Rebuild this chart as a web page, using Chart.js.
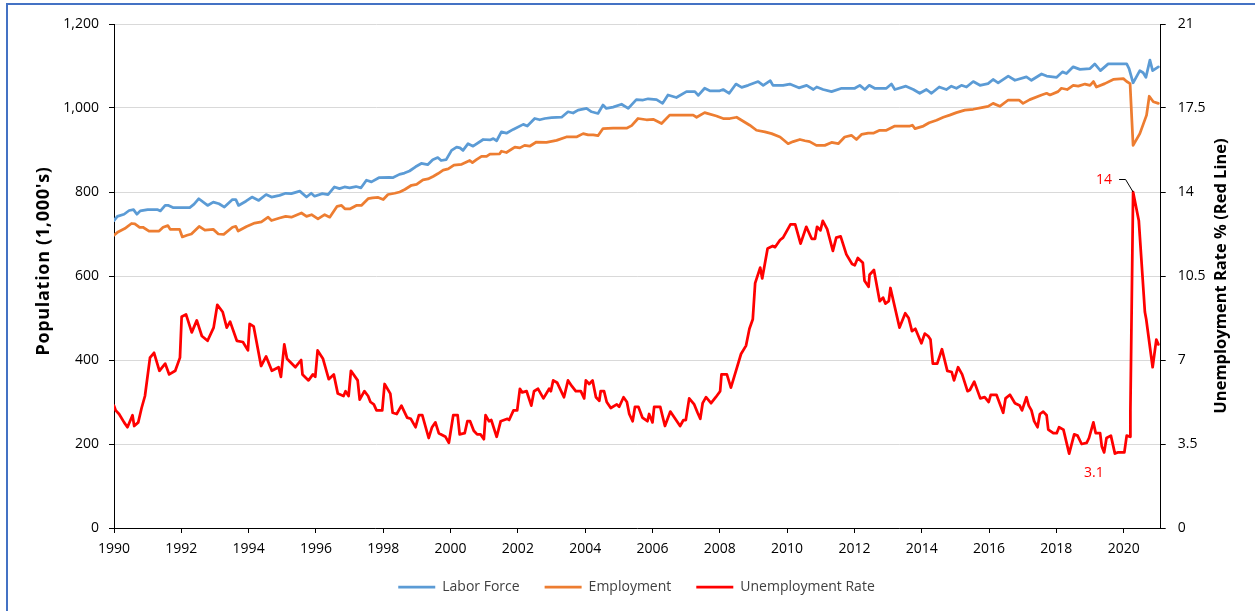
<!DOCTYPE html>
<html>
<head>
<meta charset="utf-8">
<title>Labor Force, Employment and Unemployment Rate</title>
<script src="https://cdn.jsdelivr.net/npm/chart.js@4.4.1/dist/chart.umd.min.js"></script>
<style>
  html, body { margin: 0; padding: 0; background: #fff; overflow: hidden; }
  #frame { position: absolute; left: 6px; top: 3px; width: 1400px; height: 800px; border: 2px solid #4472c4; box-sizing: border-box; }
  #wrap { position: absolute; left: 0; top: 0; width: 1255px; height: 611px; }
</style>
</head>
<body>
<div id="frame"></div>
<div id="wrap"><canvas id="chart"></canvas></div>
<script>
// tick labels
const yearTicks = [1990, 1992, 1994, 1996, 1998, 2000, 2002, 2004, 2006, 2008, 2010, 2012, 2014, 2016, 2018, 2020];
const populationTicks = [0, 200, 400, 600, 800, 1000, 1200];
const rateTicks = [0, 3.5, 7, 10.5, 14, 17.5, 21];

// [year, population in 1,000's]
const laborForce = [
  [1990.00, 732], [1990.10, 742], [1990.30, 747], [1990.45, 756], [1990.58, 758], [1990.68, 747], [1990.78, 755],
  [1991.00, 758], [1991.30, 758], [1991.38, 755], [1991.52, 768], [1991.62, 768], [1991.75, 763], [1992.25, 763],
  [1992.38, 771], [1992.52, 784], [1992.78, 768], [1992.95, 776], [1993.12, 772], [1993.28, 764], [1993.52, 782],
  [1993.62, 782], [1993.70, 768], [1993.92, 778], [1994.10, 788], [1994.30, 780], [1994.52, 794], [1994.68, 788],
  [1994.92, 792], [1995.10, 797], [1995.27, 796], [1995.52, 802], [1995.72, 788], [1995.86, 797], [1995.96, 790],
  [1996.19, 796], [1996.36, 794], [1996.55, 812], [1996.70, 808], [1996.85, 812], [1997.00, 810], [1997.19, 813],
  [1997.34, 810], [1997.50, 828], [1997.65, 824], [1997.87, 834], [1998.18, 835], [1998.28, 834], [1998.48, 842],
  [1998.63, 845], [1998.78, 850], [1998.96, 860], [1999.13, 868], [1999.32, 865], [1999.47, 877], [1999.62, 882],
  [1999.72, 875], [1999.87, 877], [2000.03, 899], [2000.18, 907], [2000.28, 905], [2000.37, 899], [2000.52, 915],
  [2000.67, 909], [2000.97, 925], [2001.17, 924], [2001.27, 927], [2001.37, 922], [2001.51, 943], [2001.66, 940],
  [2001.86, 949], [2002.16, 961], [2002.28, 957], [2002.50, 975], [2002.65, 972], [2002.80, 975], [2003.00, 977],
  [2003.30, 978], [2003.49, 991], [2003.64, 988], [2003.79, 995], [2004.04, 999], [2004.19, 991], [2004.38, 987],
  [2004.53, 1007], [2004.63, 999], [2004.83, 1002], [2005.08, 1009], [2005.28, 999], [2005.52, 1020], [2005.72, 1019],
  [2005.87, 1022], [2006.12, 1020], [2006.30, 1011], [2006.46, 1031], [2006.71, 1025], [2007.01, 1039], [2007.26, 1039],
  [2007.36, 1030], [2007.55, 1047], [2007.70, 1041], [2008.00, 1041], [2008.10, 1044], [2008.28, 1035], [2008.48, 1057],
  [2008.65, 1049], [2008.84, 1054], [2009.14, 1063], [2009.29, 1054], [2009.50, 1065], [2009.58, 1054], [2009.88, 1054],
  [2010.08, 1057], [2010.35, 1048], [2010.58, 1054], [2010.78, 1044], [2010.88, 1050], [2011.07, 1044], [2011.32, 1039],
  [2011.62, 1047], [2012.01, 1047], [2012.16, 1054], [2012.31, 1044], [2012.44, 1054], [2012.60, 1047], [2012.95, 1047],
  [2013.10, 1057], [2013.20, 1044], [2013.53, 1052], [2013.75, 1044], [2013.94, 1035], [2014.14, 1044], [2014.29, 1035],
  [2014.52, 1050], [2014.73, 1044], [2014.88, 1052], [2015.03, 1047], [2015.18, 1054], [2015.33, 1050], [2015.53, 1063],
  [2015.73, 1054], [2015.97, 1058], [2016.12, 1068], [2016.27, 1060], [2016.57, 1076], [2016.77, 1066], [2017.11, 1074],
  [2017.26, 1066], [2017.56, 1081], [2017.71, 1076], [2018.01, 1073], [2018.18, 1086], [2018.30, 1082], [2018.50, 1098],
  [2018.70, 1092], [2019.00, 1094], [2019.14, 1105], [2019.31, 1089], [2019.54, 1105], [2020.09, 1105], [2020.16, 1094],
  [2020.28, 1060], [2020.48, 1089], [2020.58, 1084], [2020.66, 1073], [2020.78, 1114], [2020.86, 1089], [2021.03, 1098]
];

const employment = [
  [1990.00, 697], [1990.12, 705], [1990.32, 713], [1990.52, 725], [1990.62, 724], [1990.76, 716], [1990.86, 716],
  [1991.04, 707], [1991.34, 707], [1991.46, 716], [1991.60, 720], [1991.67, 711], [1991.95, 711], [1992.03, 693],
  [1992.17, 697], [1992.30, 700], [1992.53, 718], [1992.70, 709], [1992.95, 711], [1993.10, 700], [1993.26, 699],
  [1993.52, 716], [1993.62, 718], [1993.69, 707], [1993.94, 718], [1994.18, 726], [1994.38, 729], [1994.58, 740],
  [1994.68, 732], [1994.92, 738], [1995.10, 742], [1995.27, 740], [1995.57, 750], [1995.72, 742], [1995.87, 746],
  [1996.06, 736], [1996.26, 746], [1996.41, 740], [1996.63, 766], [1996.76, 768], [1996.86, 760], [1997.02, 760],
  [1997.20, 768], [1997.35, 768], [1997.55, 784], [1997.68, 786], [1997.85, 787], [1998.00, 782], [1998.14, 794],
  [1998.34, 797], [1998.49, 800], [1998.64, 806], [1998.84, 816], [1998.99, 818], [1999.18, 829], [1999.33, 831],
  [1999.48, 837], [1999.63, 844], [1999.78, 852], [1999.93, 855], [2000.10, 864], [2000.33, 866], [2000.57, 875],
  [2000.65, 870], [2000.77, 877], [2000.92, 885], [2001.07, 885], [2001.17, 890], [2001.46, 891], [2001.51, 897],
  [2001.66, 894], [2001.91, 907], [2002.06, 905], [2002.20, 911], [2002.35, 909], [2002.55, 919], [2002.85, 918],
  [2003.15, 923], [2003.44, 931], [2003.74, 931], [2003.94, 939], [2004.09, 936], [2004.24, 936], [2004.38, 934],
  [2004.53, 951], [2004.83, 952], [2005.23, 952], [2005.38, 958], [2005.57, 975], [2005.82, 972], [2006.02, 973],
  [2006.27, 963], [2006.51, 983], [2006.91, 983], [2007.21, 983], [2007.31, 978], [2007.55, 989], [2007.90, 981],
  [2008.10, 975], [2008.30, 975], [2008.50, 978], [2008.89, 959], [2009.09, 947], [2009.34, 943], [2009.54, 939],
  [2009.79, 931], [2010.03, 915], [2010.18, 920], [2010.38, 925], [2010.53, 922], [2010.67, 920], [2010.87, 911],
  [2011.12, 911], [2011.32, 918], [2011.52, 915], [2011.71, 931], [2011.91, 935], [2012.06, 925], [2012.21, 937],
  [2012.41, 940], [2012.56, 940], [2012.75, 947], [2012.95, 947], [2013.20, 957], [2013.65, 957], [2013.72, 959],
  [2013.80, 951], [2014.05, 957], [2014.22, 965], [2014.44, 971], [2014.64, 978], [2014.83, 983], [2015.03, 989],
  [2015.28, 995], [2015.53, 997], [2015.78, 1001], [2015.97, 1004], [2016.12, 1011], [2016.32, 1004], [2016.57, 1019],
  [2016.89, 1019], [2017.01, 1011], [2017.21, 1020], [2017.56, 1031], [2017.71, 1035], [2017.81, 1031], [2018.05, 1039],
  [2018.15, 1047], [2018.32, 1044], [2018.50, 1054], [2018.65, 1052], [2018.85, 1057], [2019.00, 1054], [2019.10, 1063],
  [2019.19, 1050], [2019.44, 1058], [2019.69, 1068], [2019.99, 1070], [2020.09, 1063], [2020.19, 1058], [2020.28, 911],
  [2020.48, 939], [2020.68, 983], [2020.76, 1028], [2020.88, 1015], [2021.03, 1011]
];

// [year, unemployment rate %]
const unemploymentRate = [
  [1990.00, 5.1], [1990.05, 4.9], [1990.15, 4.75], [1990.30, 4.4], [1990.40, 4.2], [1990.55, 4.7], [1990.60, 4.25],
  [1990.72, 4.4], [1990.82, 5.0], [1990.92, 5.5], [1991.07, 7.1], [1991.19, 7.3], [1991.35, 6.55], [1991.52, 6.85],
  [1991.64, 6.4], [1991.82, 6.55], [1991.96, 7.1], [1992.01, 8.8], [1992.14, 8.9], [1992.31, 8.15], [1992.46, 8.65],
  [1992.61, 8.0], [1992.78, 7.8], [1992.96, 8.35], [1993.07, 9.3], [1993.23, 9.0], [1993.35, 8.35], [1993.45, 8.6],
  [1993.65, 7.8], [1993.83, 7.75], [1993.98, 7.4], [1994.03, 8.5], [1994.15, 8.4], [1994.37, 6.75], [1994.52, 7.15],
  [1994.69, 6.55], [1994.89, 6.7], [1994.96, 6.3], [1995.06, 7.65], [1995.14, 7.05], [1995.39, 6.7], [1995.56, 7.0],
  [1995.60, 6.4], [1995.78, 6.15], [1995.91, 6.4], [1995.98, 6.3], [1996.05, 7.4], [1996.21, 7.05], [1996.38, 6.2],
  [1996.53, 6.4], [1996.65, 5.6], [1996.82, 5.5], [1996.88, 5.7], [1996.97, 5.5], [1997.04, 6.55], [1997.24, 6.15],
  [1997.30, 5.35], [1997.44, 5.7], [1997.55, 5.5], [1997.62, 5.25], [1997.72, 5.15], [1997.80, 4.9], [1997.97, 4.9],
  [1998.04, 6.0], [1998.21, 5.6], [1998.28, 4.8], [1998.40, 4.75], [1998.54, 5.1], [1998.71, 4.6], [1998.82, 4.55],
  [1998.96, 4.2], [1999.06, 4.7], [1999.16, 4.7], [1999.35, 3.75], [1999.45, 4.2], [1999.55, 4.4], [1999.65, 3.95],
  [1999.85, 3.8], [1999.95, 3.55], [2000.08, 4.7], [2000.21, 4.7], [2000.27, 3.9], [2000.42, 3.95], [2000.50, 4.45],
  [2000.58, 4.45], [2000.69, 4.05], [2000.79, 3.9], [2000.89, 3.9], [2000.99, 3.7], [2001.04, 4.7], [2001.14, 4.45],
  [2001.21, 4.5], [2001.37, 3.8], [2001.49, 4.45], [2001.69, 4.55], [2001.74, 4.5], [2001.87, 4.9], [2001.98, 4.9],
  [2002.06, 5.8], [2002.13, 5.65], [2002.26, 5.7], [2002.40, 5.1], [2002.48, 5.7], [2002.60, 5.8], [2002.76, 5.4],
  [2002.93, 5.8], [2002.98, 5.7], [2003.05, 6.15], [2003.17, 6.05], [2003.37, 5.45], [2003.49, 6.15], [2003.61, 5.9],
  [2003.72, 5.7], [2003.87, 5.7], [2003.97, 5.4], [2004.02, 6.15], [2004.12, 6.0], [2004.22, 6.15], [2004.32, 5.45],
  [2004.42, 5.3], [2004.46, 5.7], [2004.56, 5.7], [2004.64, 5.25], [2004.76, 5.0], [2004.94, 5.15], [2005.01, 5.05],
  [2005.14, 5.45], [2005.24, 5.25], [2005.31, 4.75], [2005.41, 4.45], [2005.48, 5.05], [2005.58, 5.05], [2005.70, 4.6],
  [2005.85, 4.45], [2005.90, 4.75], [2006.00, 4.4], [2006.05, 5.05], [2006.23, 5.05], [2006.37, 4.25], [2006.53, 4.85],
  [2006.65, 4.6], [2006.82, 4.25], [2006.92, 4.5], [2006.99, 4.5], [2007.09, 5.4], [2007.24, 5.15], [2007.34, 4.8],
  [2007.42, 4.55], [2007.49, 5.2], [2007.59, 5.45], [2007.74, 5.2], [2007.88, 5.45], [2008.01, 5.7], [2008.05, 6.4],
  [2008.21, 6.4], [2008.33, 5.85], [2008.48, 6.55], [2008.63, 7.25], [2008.78, 7.6], [2008.88, 8.3], [2008.98, 8.7],
  [2009.05, 10.2], [2009.20, 10.85], [2009.26, 10.4], [2009.42, 11.65], [2009.57, 11.75], [2009.64, 11.7], [2009.79, 12.0],
  [2009.88, 12.1], [2010.10, 12.65], [2010.24, 12.65], [2010.40, 11.85], [2010.57, 12.55], [2010.73, 12.05], [2010.83, 12.05],
  [2010.89, 12.55], [2010.99, 12.4], [2011.06, 12.8], [2011.19, 12.45], [2011.36, 11.55], [2011.46, 12.1], [2011.59, 12.15],
  [2011.76, 11.4], [2011.93, 11.0], [2012.01, 10.95], [2012.10, 11.25], [2012.25, 11.05], [2012.30, 10.3], [2012.42, 10.05],
  [2012.45, 10.55], [2012.58, 10.75], [2012.75, 9.45], [2012.85, 9.6], [2012.92, 9.35], [2013.02, 9.45], [2013.07, 10.0],
  [2013.34, 8.35], [2013.51, 8.95], [2013.61, 8.75], [2013.71, 8.2], [2013.81, 8.3], [2013.99, 7.7], [2014.09, 8.1],
  [2014.19, 8.0], [2014.26, 7.85], [2014.33, 6.85], [2014.46, 6.85], [2014.60, 7.45], [2014.76, 6.55], [2014.89, 6.5],
  [2014.96, 6.15], [2015.08, 6.7], [2015.20, 6.4], [2015.36, 5.7], [2015.43, 5.75], [2015.56, 6.1], [2015.74, 5.4],
  [2015.87, 5.45], [2015.99, 5.25], [2016.05, 5.55], [2016.22, 5.55], [2016.42, 4.8], [2016.49, 5.4], [2016.62, 5.55],
  [2016.77, 5.2], [2016.91, 5.1], [2016.98, 4.9], [2017.11, 5.45], [2017.18, 5.1], [2017.26, 4.9], [2017.34, 4.45],
  [2017.44, 4.2], [2017.51, 4.75], [2017.61, 4.85], [2017.71, 4.7], [2017.76, 4.1], [2017.91, 3.95], [2018.01, 3.95],
  [2018.08, 4.2], [2018.21, 4.1], [2018.38, 3.1], [2018.53, 3.9], [2018.63, 3.85], [2018.75, 3.5], [2018.90, 3.55],
  [2018.97, 3.75], [2019.10, 4.4], [2019.17, 3.95], [2019.30, 3.95], [2019.35, 3.4], [2019.42, 3.15], [2019.49, 3.75],
  [2019.62, 3.85], [2019.74, 3.1], [2019.82, 3.15], [2020.02, 3.15], [2020.09, 3.85], [2020.19, 3.8], [2020.20, 4.9],
  [2020.28, 14.0], [2020.45, 12.8], [2020.63, 9.0], [2020.67, 8.7], [2020.86, 6.7], [2020.97, 7.85], [2021.03, 7.65]
];

// labelled points on the red line: [year, rate, text]
const callouts = [[2020.28, 14.0, '14'], [2019.74, 3.1, '3.1']];

const toPoints = arr => arr.map(([x, y]) => ({ x, y }));

Chart.defaults.font.family = '"Open Sans", sans-serif';
Chart.defaults.font.size = 14;
Chart.defaults.color = '#000';

// axis titles and the two data labels
const extras = {
  id: 'extras',
  afterDraw(chart) {
    const { ctx, chartArea, scales } = chart;
    const midY = (chartArea.top + chartArea.bottom) / 2;
    ctx.save();
    ctx.fillStyle = '#000';
    ctx.textAlign = 'center';
    ctx.textBaseline = 'middle';

    ctx.save();
    ctx.font = 'bold 18px "Open Sans"';
    ctx.letterSpacing = '0.7px';
    ctx.translate(chartArea.left - 70, midY - 15);
    ctx.rotate(-Math.PI / 2);
    ctx.fillText("Population (1,000's)", 0, 0);
    ctx.restore();

    ctx.save();
    ctx.font = 'bold 16.5px "Open Sans"';
    ctx.translate(chartArea.right + 61, midY);
    ctx.rotate(-Math.PI / 2);
    ctx.fillText('Unemployment Rate % (Red Line)', 0, 0);
    ctx.restore();

    ctx.font = '14px "Open Sans"';
    ctx.fillStyle = '#ff0000';
    callouts.forEach(([year, rate, text], i) => {
      const px = scales.x.getPixelForValue(year);
      const py = scales.y1.getPixelForValue(rate);
      if (i === 0) {
        ctx.strokeStyle = '#000';
        ctx.lineWidth = 1;
        ctx.beginPath();
        ctx.moveTo(px - 14, py - 12.5);
        ctx.lineTo(px - 7.5, py - 12.5);
        ctx.lineTo(px, py);
        ctx.stroke();
        ctx.fillText(text, px - 29, py - 12);
      } else {
        ctx.fillText(text, px - 21, py + 19);
      }
    });
    ctx.restore();
  }
};

new Chart(document.getElementById('chart'), {
  type: 'line',
  data: {
    datasets: [{
      label: 'Labor Force',
      data: toPoints(laborForce),
      borderColor: '#5b9bd5',
      backgroundColor: '#5b9bd5',
      borderWidth: 2.75,
      yAxisID: 'y',
      order: 2
    }, {
      label: 'Employment',
      data: toPoints(employment),
      borderColor: '#ed7d31',
      backgroundColor: '#ed7d31',
      borderWidth: 2.75,
      yAxisID: 'y',
      order: 1
    }, {
      label: 'Unemployment Rate',
      data: toPoints(unemploymentRate),
      borderColor: '#ff0000',
      backgroundColor: '#ff0000',
      borderWidth: 2.75,
      yAxisID: 'y1',
      order: 0
    }]
  },
  options: {
    responsive: true,
    maintainAspectRatio: false,
    animation: false,
    elements: {
      point: { radius: 0, hoverRadius: 0 },
      line: { tension: 0, borderJoinStyle: 'round', borderCapStyle: 'round' }
    },
    layout: { padding: { left: 18, right: 0, top: 24, bottom: 7 } },
    scales: {
      x: {
        type: 'linear',
        min: 1990,
        max: 2021.1,
        afterBuildTicks: s => { s.ticks = yearTicks.map(v => ({ value: v })); },
        afterFit: s => { s.height = 27; },
        ticks: { padding: 8, maxRotation: 0, autoSkip: false, callback: v => String(v) },
        grid: { drawOnChartArea: false, tickLength: 5, tickColor: '#000' },
        border: { color: '#000', width: 1 }
      },
      y: {
        position: 'left',
        min: 0,
        max: 1200,
        afterBuildTicks: s => { s.ticks = populationTicks.map(v => ({ value: v })); },
        afterFit: s => { s.width = 96; },
        ticks: { padding: 10, callback: v => v.toLocaleString('en-US') },
        grid: { color: '#d9d9d9', lineWidth: 1, tickLength: 5, tickColor: '#000' },
        border: { color: '#000', width: 1 }
      },
      y1: {
        position: 'right',
        min: 0,
        max: 21,
        afterBuildTicks: s => { s.ticks = rateTicks.map(v => ({ value: v })); },
        afterFit: s => { s.width = 94.3; },
        ticks: { padding: 12, callback: v => String(v) },
        grid: { drawOnChartArea: false, tickLength: 5, tickColor: '#000' },
        border: { color: '#000', width: 1 }
      }
    },
    plugins: {
      legend: {
        position: 'bottom',
        labels: {
          usePointStyle: true,
          pointStyle: 'line',
          pointStyleWidth: 37,
          padding: 25,
          color: '#404040',
          font: { size: 14 },
          sort: (a, b) => a.datasetIndex - b.datasetIndex
        }
      },
      tooltip: { enabled: false }
    }
  },
  plugins: [extras]
});
</script>
</body>
</html>
